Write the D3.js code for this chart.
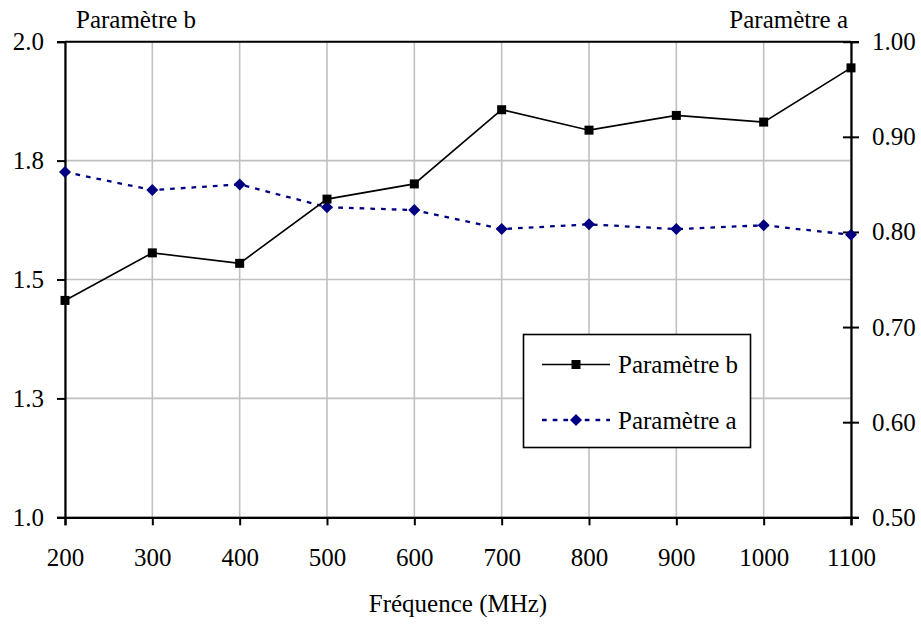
<!DOCTYPE html>
<html><head><meta charset="utf-8">
<script src="https://cdn.jsdelivr.net/npm/d3@7/dist/d3.min.js"></script>
<style>
body{margin:0;background:#fff}svg{display:block}
svg text{font-family:"Liberation Serif","Times New Roman",Times,"DejaVu Serif",serif !important;font-size:25px;fill:#000}
</style>
</head><body>
<svg id="chart" width="921" height="626"></svg>
<script>
const frequencies = [200, 300, 400, 500, 600, 700, 800, 900, 1000, 1100];
const paramB = [1.456, 1.556, 1.534, 1.669, 1.701, 1.857, 1.814, 1.845, 1.831, 1.945];
const paramA = [0.863, 0.844, 0.850, 0.826, 0.823, 0.803, 0.808, 0.803, 0.807, 0.797];
const leftTicks = [1.0, 1.25, 1.5, 1.75, 2.0];
const rightTicks = [0.5, 0.6, 0.7, 0.8, 0.9, 1.0];
const seriesNames = ["Paramètre b", "Paramètre a"];

const svg = d3.select("#chart");
const L = 65, R = 851, T = 41.7, B = 517.3;

const x = d3.scaleLinear().domain([200, 1100]).range([L, R]);
const yL = d3.scaleLinear().domain([1.0, 2.0]).range([B, T]);
const yR = d3.scaleLinear().domain([0.5, 1.0]).range([B, T]);

// gridlines
const g = svg.append("g");
g.selectAll(".vg").data(frequencies).join("line")
  .attr("x1", d => x(d)).attr("x2", d => x(d)).attr("y1", T).attr("y2", B)
  .attr("stroke", "#c0c0c0").attr("stroke-width", 1.6);
g.selectAll(".hg").data(leftTicks).join("line")
  .attr("x1", L).attr("x2", R).attr("y1", d => yL(d)).attr("y2", d => yL(d))
  .attr("stroke", "#c0c0c0").attr("stroke-width", 1.6);
svg.append("line").attr("x1", L).attr("x2", R).attr("y1", T).attr("y2", T)
  .attr("stroke", "#000").attr("stroke-width", 2);

// axes
const xAxis = d3.axisBottom(x).tickValues(frequencies).tickSize(8).tickFormat(d3.format("d"));
const gx = svg.append("g").attr("transform", `translate(0,${B})`).call(xAxis);
gx.select(".domain").attr("stroke-width", 2.2);
gx.selectAll(".tick line").attr("stroke-width", 2);
gx.selectAll("text").attr("dy", null).attr("y", 49);

const yAxisL = d3.axisLeft(yL).tickValues(leftTicks).tickSize(8).tickFormat(d3.format(".1f"));
const gyl = svg.append("g").attr("transform", `translate(${L},0)`).call(yAxisL);
gyl.select(".domain").attr("stroke-width", 2.2);
gyl.selectAll(".tick line").attr("stroke-width", 2);
gyl.selectAll("text").attr("x", -21).attr("dy", "0.32em");

const yAxisR = d3.axisRight(yR).tickValues(rightTicks).tickSize(8).tickFormat(d3.format(".2f"));
const gyr = svg.append("g").attr("transform", `translate(${R},0)`).call(yAxisR);
gyr.select(".domain").attr("stroke-width", 2.2);
gyr.selectAll(".tick line").attr("x1", -8).attr("stroke-width", 2);
gyr.selectAll("text").attr("x", 21).attr("dy", "0.32em");
svg.selectAll(".domain").attr("stroke", "#000");

// series
const lineB = d3.line().x((d, i) => x(frequencies[i])).y(d => yL(d));
const lineA = d3.line().x((d, i) => x(frequencies[i])).y(d => yR(d));
svg.append("path").datum(paramA).attr("d", lineA).attr("fill", "none")
  .attr("stroke", "#000080").attr("stroke-width", 2.3).attr("stroke-dasharray", "4.7,6");
svg.append("path").datum(paramB).attr("d", lineB).attr("fill", "none")
  .attr("stroke", "#000").attr("stroke-width", 1.6);

const diamond = (cx, cy, r) => `M${cx},${cy - r}L${cx + r},${cy}L${cx},${cy + r}L${cx - r},${cy}Z`;
svg.selectAll(".ma").data(paramA).join("path")
  .attr("d", (d, i) => diamond(x(frequencies[i]), yR(d), 6)).attr("fill", "#000080");
svg.selectAll(".mb").data(paramB).join("rect")
  .attr("x", (d, i) => x(frequencies[i]) - 4.5).attr("y", d => yL(d) - 4.5)
  .attr("width", 9).attr("height", 9).attr("fill", "#000");

// titles
svg.append("text").attr("x", 76).attr("y", 28).text(seriesNames[0]);
svg.append("text").attr("x", 848).attr("y", 28).attr("text-anchor", "end").text(seriesNames[1]);
svg.append("text").attr("x", 458).attr("y", 612).attr("text-anchor", "middle").text("Fréquence (MHz)");

// legend
const lg = svg.append("g");
lg.append("rect").attr("x", 523.5).attr("y", 334.5).attr("width", 227).attr("height", 113)
  .attr("fill", "#fff").attr("stroke", "#000").attr("stroke-width", 1.6);
lg.append("line").attr("x1", 542).attr("x2", 610).attr("y1", 364.5).attr("y2", 364.5)
  .attr("stroke", "#000").attr("stroke-width", 1.6);
lg.append("rect").attr("x", 571.5).attr("y", 360).attr("width", 9).attr("height", 9).attr("fill", "#000");
lg.append("line").attr("x1", 542).attr("x2", 610).attr("y1", 420).attr("y2", 420)
  .attr("stroke", "#000080").attr("stroke-width", 2.3).attr("stroke-dasharray", "4.7,6");
lg.append("path").attr("d", diamond(576, 420, 6)).attr("fill", "#000080");
lg.append("text").attr("x", 618).attr("y", 373).text(seriesNames[0]);
lg.append("text").attr("x", 618).attr("y", 429).text(seriesNames[1]);
</script>
</body></html>
